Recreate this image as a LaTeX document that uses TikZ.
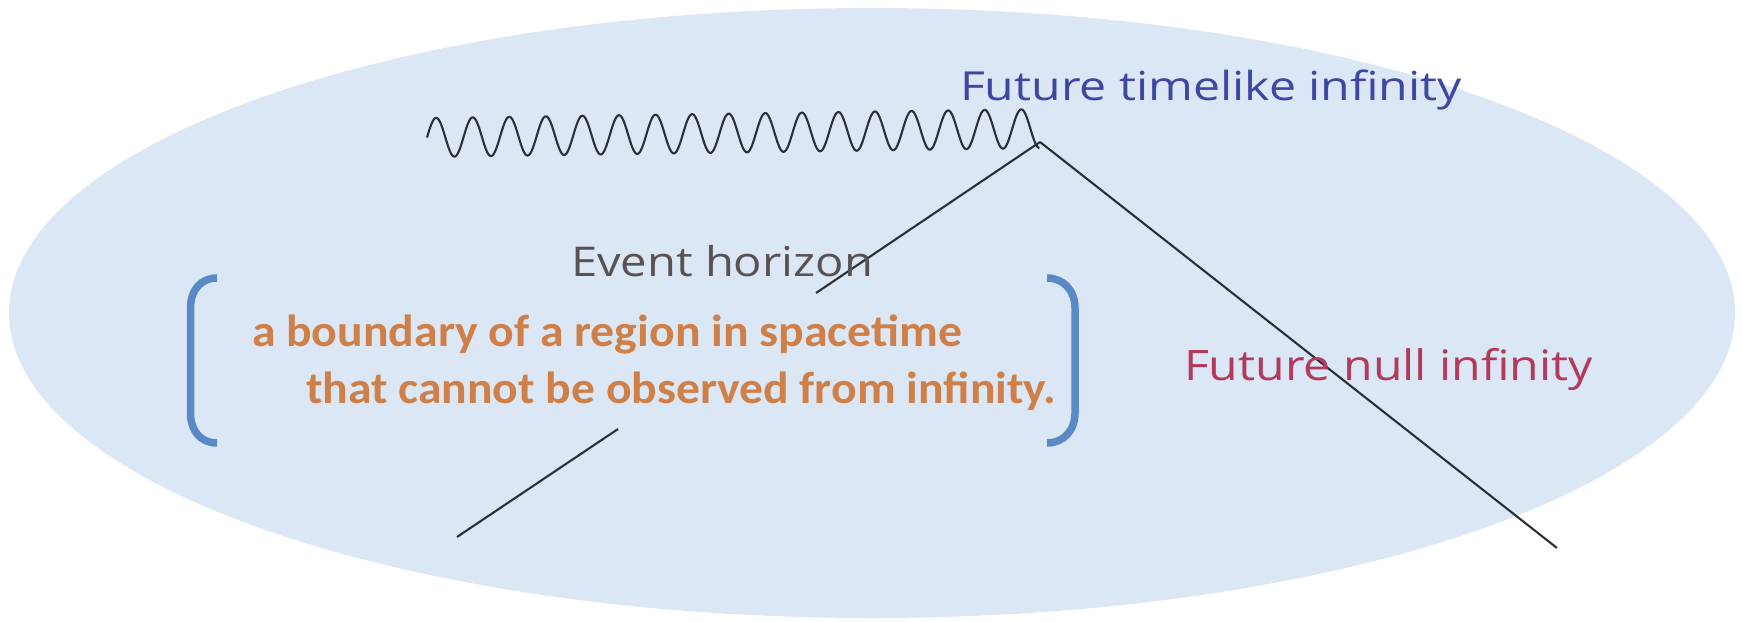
\documentclass[tikz,border=0pt]{standalone}
\usepackage{fontspec}
\usepackage{graphicx}
\newfontfamily\opensans{Open Sans}
\newfontfamily\carlito{Carlito}
\definecolor{bgell}{HTML}{DCE7F5}
\definecolor{tlblue}{HTML}{3E47A3}
\definecolor{nullred}{HTML}{B23A5C}
\definecolor{ehgray}{HTML}{5A5252}
\definecolor{deforange}{HTML}{CF8049}
\definecolor{brblue}{HTML}{5A8AC6}
\definecolor{linegray}{HTML}{2B3038}
\tikzset{
  lbl/.style={inner sep=0pt, outer sep=0pt, anchor=base west},
  conn/.style={draw=linegray, line width=2.1pt},
  bracketline/.style={draw=brblue, line width=7.5pt},
}
\begin{document}
\begin{tikzpicture}[x=1pt,y=-1pt]
\useasboundingbox (0,0) rectangle (1742,621);
\fill[bgell] (872,313) ellipse [x radius=863pt, y radius=305pt];

% singularity wave
\draw[linegray, line width=2.1pt, line join=round]
  plot[domain=0:16.75, samples=700, smooth]
  ({427 + 36.57*\x}, {137.5 - 8.5*\x/16 - 19.5*sin(360*\x)});

% coordinates
\coordinate (corner) at (1040,142);
\coordinate (ehtop) at (816,293);
\coordinate (ehlowa) at (618,429);
\coordinate (ehlowb) at (457,537);
\coordinate (nullend) at (1557,548);

\draw[conn] (corner) -- (ehtop);
\draw[conn] (ehlowa) -- (ehlowb);
\draw[conn] (corner) -- (nullend);

% brackets
\draw[bracketline] (217,278) .. controls (201,278) and (190.5,290) .. (190.5,308)
  -- (190.5,413) .. controls (190.5,431) and (201,443) .. (217,443);
\draw[bracketline] (1047,278) .. controls (1063,278) and (1075,290) .. (1075,308)
  -- (1075,413) .. controls (1075,431) and (1063,443) .. (1047,443);

% labels
\node[lbl, text=tlblue] (ftl) at (960,100)
  {\resizebox{502pt}{\height}{\fontsize{40}{48}\selectfont\opensans Future timelike infinity}};
\node[lbl, text=ehgray] (eh) at (571,276)
  {\resizebox{302pt}{\height}{\fontsize{41}{48}\selectfont\opensans Event horizon}};
\node[lbl, text=nullred] (fni) at (1184,380)
  {\resizebox{409pt}{\height}{\fontsize{42}{48}\selectfont\opensans Future null infinity}};
\node[lbl, text=deforange] (defa) at (252,346)
  {\resizebox{710pt}{\height}{\fontsize{45}{54}\selectfont\carlito\bfseries a boundary of a region in spacetime}};
\node[lbl, text=deforange] (defb) at (306,403)
  {\resizebox{750pt}{\height}{\fontsize{45}{54}\selectfont\carlito\bfseries that cannot be observed from infinity.}};
\end{tikzpicture}
\end{document}
